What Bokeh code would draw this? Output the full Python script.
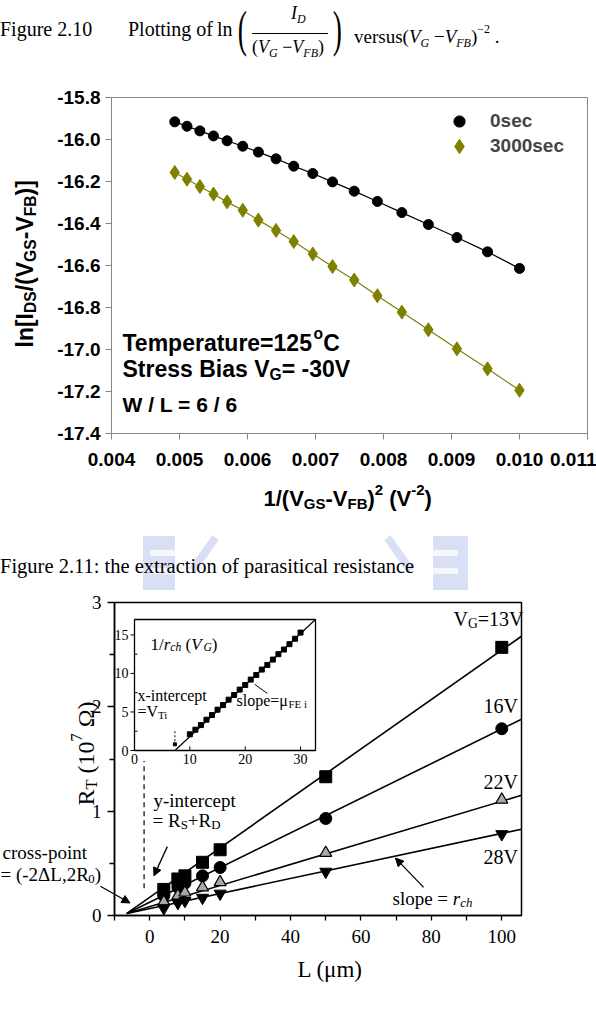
import math
from bokeh.plotting import figure
from bokeh.models import (Label, Legend, LegendItem, FixedTicker, Range1d, Div,
                          Arrow, NormalHead, NumeralTickFormatter, LinearAxis)
from bokeh.layouts import column
from bokeh.embed import file_html
from bokeh.resources import INLINE
from bokeh.core.properties import value

# ---------------- data : Figure 2.10 ----------------
inv_vgs_sq = [0.00493, 0.00511, 0.00530, 0.00550, 0.00570, 0.00593, 0.00616, 0.00642, 0.00668,
              0.00696, 0.00725, 0.00757, 0.00791, 0.00827, 0.00866, 0.00908, 0.00953, 0.01000]
ln_0sec = [-15.916, -15.937, -15.959, -15.983, -16.006, -16.032, -16.060, -16.092, -16.127,
           -16.162, -16.202, -16.246, -16.295, -16.348, -16.405, -16.467, -16.535, -16.614]
ln_3000sec = [-16.157, -16.189, -16.224, -16.260, -16.297, -16.337, -16.384, -16.433, -16.486,
              -16.545, -16.605, -16.669, -16.744, -16.822, -16.906, -16.997, -17.092, -17.194]
series_names_210 = ["0sec", "3000sec"]
x_ticks_210 = [0.004, 0.005, 0.006, 0.007, 0.008, 0.009, 0.010, 0.011]
x_tick_labels_210 = ["0.004", "0.005", "0.006", "0.007", "0.008", "0.009", "0.010", "0.011"]
y_ticks_210 = [-17.4, -17.2, -17.0, -16.8, -16.6, -16.4, -16.2, -16.0, -15.8]
y_tick_labels_210 = ["-17.4", "-17.2", "-17.0", "-16.8", "-16.6", "-16.4", "-16.2", "-16.0", "-15.8"]

# ---------------- data : Figure 2.11 ----------------
L_um = [4, 8, 10, 15, 20, 50, 100]
rt_13V = [0.25, 0.35, 0.38, 0.51, 0.63, 1.33, 2.57]
rt_16V = [0.19, 0.27, 0.31, 0.38, 0.46, 0.93, 1.79]
rt_22V = [0.13, 0.19, 0.22, 0.27, 0.32, 0.60, 1.11]
rt_28V = [0.07, 0.12, 0.14, 0.17, 0.21, 0.42, 0.78]
vg_names = ["13V", "16V", "22V", "28V"]
rch_slopes = [0.0237, 0.0166, 0.0101, 0.0072]      # fitted slopes r_ch
cross_L, cross_R = -6.5, 0.02                      # common cross-point (-2dL, 2R0)
x_lim_211 = (-10.0, 105.6)
y_lim_211 = (0.0, 3.0)
x_ticks_211 = [0, 20, 40, 60, 80, 100]
x_tick_labels_211 = ["0", "20", "40", "60", "80", "100"]
x_minor_211 = [-10, 10, 30, 50, 70, 90]
y_ticks_211 = [0, 1, 2, 3]
y_tick_labels_211 = ["0", "1", "2", "3"]
y_minor_211 = [0.5, 1.5, 2.5]
yint_marker_L = -1.6                               # dashed guide line
yint_marker_R = [0.26, 1.48]

# inset 1/r_ch (V_G)
inset_vg = [10, 11, 12, 13, 14, 15, 16, 17, 18, 19, 20, 21, 22, 23, 24, 25, 26, 27, 28, 29, 30]
inset_inv_rch = [2.1, 2.7, 3.3, 4.0, 4.6, 5.3, 5.9, 6.6, 7.2, 7.9, 8.5, 9.2, 9.8, 10.5,
                 11.1, 11.8, 12.5, 13.1, 13.8, 14.5, 15.3]
inset_low_vg = [7.3]
inset_low_val = [0.8]
vti = 7.3
mu_fe = 0.669
inset_x_lim = (0.0, 32.7)
inset_y_lim = (0.0, 17.0)
inset_x_ticks = [0, 10, 20, 30]
inset_x_tick_labels = ["0", "10", "20", "30"]
inset_y_ticks = [0, 5, 10, 15]
inset_y_tick_labels = ["0", "5", "10", "15"]
inset_y_minor = [2.5, 7.5, 12.5]

OLIVE = "#808000"
GREY = "#868686"
SANS = "Liberation Sans"
SERIF = "Liberation Serif"

AB = {' ': 278, '(': 333, ')': 333, '-': 333, '.': 278, '/': 278, '=': 584, '[': 333, ']': 333,
      'A': 722, 'B': 722, 'C': 722, 'D': 722, 'E': 667, 'F': 611, 'G': 778, 'I': 278, 'L': 611,
      'S': 667, 'T': 611, 'V': 667, 'W': 944, 'a': 556, 'c': 556, 'e': 556, 'i': 278, 'l': 278,
      'm': 889, 'n': 611, 'o': 611, 'p': 611, 'r': 389, 's': 556, 't': 333, 'u': 611}
for d in "0123456789":
    AB[d] = 556
TR = {' ': 250, '(': 333, ')': 333, '-': 333, '.': 250, ',': 250, '/': 278, '=': 564, '+': 564,
      ':': 278, 'C': 667, 'D': 722, 'E': 611, 'F': 556, 'G': 722, 'L': 611, 'R': 667, 'S': 556,
      'T': 611, 'V': 722, 'Δ': 612, 'Ω': 768, 'a': 444, 'c': 444, 'e': 444, 'h': 500, 'i': 278,
      'l': 278, 'm': 778, 'n': 500, 'o': 500, 'p': 500, 'r': 389, 's': 389, 't': 278, 'u': 500,
      'x': 500, 'y': 500, 'μ': 576}
for d in "0123456789":
    TR[d] = 500


def text_w(s, size, table):
    return sum(table.get(c, 500) for c in s) * size / 1000.0


def rich(p, X, Y, parts, fig_bottom, size, font, table, style="normal", angle=0.0, color="black"):
    """Run of text with sub/superscripts; X, Y = page px of the visual baseline start."""
    pos = 0.0
    comp = 0.32 * size  # renderer draws 'alphabetic' a little low; lift it
    for part in parts:
        txt, kind = part[0], part[1]
        st = part[2] if len(part) > 2 else style
        fs = size * 0.68 if kind != "n" else size
        shift = {"n": 0.0, "sub": -0.22 * size, "sup": 0.40 * size}[kind] + comp
        core = txt.strip(" ")
        lead = len(txt) - len(txt.lstrip(" "))
        trail = len(txt) - len(txt.rstrip(" "))
        pos += text_w(" " * lead, fs, table)
        if angle == 0.0:
            sx, sy = X + pos, fig_bottom - Y + shift
        else:
            sx, sy = X - shift, fig_bottom - Y + pos
        p.add_layout(Label(x=sx, y=sy, x_units="screen", y_units="screen", text=core,
                           text_font=font, text_font_size=f"{fs:.1f}px", text_font_style=st,
                           text_color=color, text_align="left", text_baseline="alphabetic",
                           angle=angle))
        pos += text_w(core, fs, table) + text_w(" " * trail, fs, table)


def make_fig(width, height, box, x_lim, y_lim):
    """Figure whose frame fills the canvas; the plot box (canvas px) maps onto x_lim/y_lim."""
    l, r, t, b = box
    kx = (x_lim[1] - x_lim[0]) / (r - l)
    ky = (y_lim[1] - y_lim[0]) / (b - t)
    p = figure(width=width, height=height, output_backend="svg", toolbar_location=None,
               x_range=Range1d(x_lim[0] - l * kx, x_lim[1] + (width - r) * kx),
               y_range=Range1d(y_lim[0] - (height - b) * ky, y_lim[1] + t * ky),
               x_axis_location=None, y_axis_location=None,
               min_border=0, min_border_left=0, min_border_right=0, min_border_top=0,
               min_border_bottom=0, background_fill_color="white", border_fill_color="white")
    p.title.visible = False
    p.outline_line_color = None
    p.xgrid.visible = False
    p.ygrid.visible = False
    return p


def style_axis(ax, color, font, size, bold):
    ax.axis_line_color = color
    ax.major_tick_line_color = color
    ax.major_tick_in = 0
    ax.major_label_text_font = font
    ax.major_label_text_font_size = size
    ax.major_label_text_font_style = "bold" if bold else "normal"
    ax.major_label_text_color = "black"


# ======================= caption 1 =======================
sub = 'style="font-size:12px;font-style:italic;vertical-align:-4px"'
cap1_html = f"""
<div style="position:relative;width:596px;height:60px;overflow:hidden;font-family:'{SERIF}',serif;color:#000;">
<span style="position:absolute;left:0px;top:17px;font-size:20px;line-height:24px;white-space:nowrap;">Figure 2.10</span>
<span style="position:absolute;left:128px;top:17px;font-size:20px;line-height:24px;white-space:nowrap;">Plotting of</span>
<span style="position:absolute;left:217px;top:17px;font-size:20px;line-height:24px;">ln</span>
<span style="position:absolute;left:234px;top:2px;font-size:50px;line-height:54px;transform:scaleX(0.55);">(</span>
<span style="position:absolute;left:291px;top:2px;font-size:18px;line-height:22px;font-style:italic;white-space:nowrap;">I<span {sub}>D</span></span>
<div style="position:absolute;left:252px;top:33px;width:76px;height:1px;background:#000;"></div>
<span style="position:absolute;left:252px;top:36px;font-size:18px;line-height:22px;white-space:nowrap;">(<i>V</i><span {sub}>G</span> &minus;<i>V</i><span {sub}>FB</span>)</span>
<span style="position:absolute;left:329px;top:2px;font-size:50px;line-height:54px;transform:scaleX(0.55);">)</span>
<span style="position:absolute;left:354px;top:17px;font-size:19px;line-height:24px;white-space:nowrap;">versus(<i>V</i><span {sub}>G</span> &minus;<i>V</i><span {sub}>FB</span>)<span style="font-size:12px;vertical-align:10px;">&minus;2</span> .</span>
</div>"""
cap1 = Div(text=cap1_html, width=596, height=60, margin=0)

# ======================= figure 2.10 =======================
F1_TOP, F1_H = 60, 470
F1_BOTTOM = F1_TOP + F1_H
box1 = (111, 587, 97 - F1_TOP, 433 - F1_TOP)
x_lim_210 = (x_ticks_210[0], x_ticks_210[-1])
y_lim_210 = (y_ticks_210[0], y_ticks_210[-1])
p1 = make_fig(596, F1_H, box1, x_lim_210, y_lim_210)

xax1 = LinearAxis(fixed_location=y_lim_210[0], bounds=x_lim_210, ticker=FixedTicker(ticks=x_ticks_210),
                  formatter=NumeralTickFormatter(format="0.000"))
style_axis(xax1, GREY, SANS, "19px", True)
xax1.major_tick_out = 6
xax1.minor_tick_line_color = None
xax1.major_label_standoff = 13
xax1.major_label_overrides = dict(zip(x_ticks_210, x_tick_labels_210))
p1.add_layout(xax1, "below")
yax1 = LinearAxis(fixed_location=x_lim_210[0], bounds=y_lim_210, ticker=FixedTicker(ticks=y_ticks_210),
                  formatter=NumeralTickFormatter(format="0.0"))
style_axis(yax1, GREY, SANS, "19px", True)
yax1.major_tick_out = 6
yax1.minor_tick_line_color = None
yax1.major_label_standoff = 5
yax1.major_label_overrides = dict(zip(y_ticks_210, y_tick_labels_210))
p1.add_layout(yax1, "left")
p1.quad(left=[x_lim_210[0]], right=[x_lim_210[1]], bottom=[y_lim_210[0]], top=[y_lim_210[1]],
        fill_color=None, line_color=GREY, line_width=1)

p1.line(inv_vgs_sq, ln_0sec, line_color="black", line_width=1.2)
r0 = p1.scatter(inv_vgs_sq, ln_0sec, marker="circle", size=10, fill_color="black", line_color="black")
p1.line(inv_vgs_sq, ln_3000sec, line_color=OLIVE, line_width=1.2)
r1 = p1.scatter(inv_vgs_sq, ln_3000sec, marker="diamond", size=14, fill_color=OLIVE, line_color=OLIVE)

# legend: one entry each so the two markers get their own glyph box size
leg_common = dict(spacing=0, padding=0, margin=0, border_line_color=None, background_fill_alpha=0,
                  label_text_font=SANS, label_text_font_style="bold", label_text_font_size="19px")
g0, g1 = 28, 36
p1.add_layout(Legend(items=[LegendItem(label=series_names_210[0], renderers=[r0])],
                     location=(459 - g0 // 2, F1_BOTTOM - (121 + g0 // 2)),
                     glyph_width=g0, glyph_height=g0, label_height=g0,
                     label_standoff=490 - (459 + g0 // 2), **leg_common))
p1.add_layout(Legend(items=[LegendItem(label=series_names_210[1], renderers=[r1])],
                     location=(459 - g1 // 2, F1_BOTTOM - (146 + g1 // 2)),
                     glyph_width=g1, glyph_height=g1, label_height=g1,
                     label_standoff=490 - (459 + g1 // 2), **leg_common))

rich(p1, 32, 347, [("ln[I", "n"), ("DS", "sub"), ("/(V", "n"), ("GS", "sub"), ("-V", "n"),
                   ("FB", "sub"), (")]", "n")], F1_BOTTOM, 23, SANS, AB, "bold", angle=math.pi / 2)
rich(p1, 263, 505, [("1/(V", "n"), ("GS", "sub"), ("-V", "n"), ("FB", "sub"), (")", "n"),
                    ("2", "sup"), (" (V", "n"), ("-2", "sup"), (")", "n")], F1_BOTTOM, 22, SANS, AB, "bold")
rich(p1, 122, 350, [("Temperature=125", "n"), ("o", "sup"), ("C", "n")], F1_BOTTOM, 23, SANS, AB, "bold")
rich(p1, 122, 376, [("Stress Bias V", "n"), ("G", "sub"), ("= -30V", "n")], F1_BOTTOM, 23, SANS, AB, "bold")
rich(p1, 122, 411, [("W / L = 6 / 6", "n")], F1_BOTTOM, 21, SANS, AB, "bold")

# ======================= caption 2 (with faint watermark) =======================
wm = "rgba(120,145,220,0.28)"
cap2_html = f"""
<div style="position:relative;width:596px;height:60px;overflow:hidden;font-family:'{SERIF}',serif;color:#000;">
<div style="position:absolute;left:143px;top:6px;width:32px;height:54px;background:{wm};"></div>
<div style="position:absolute;left:150px;top:20px;width:25px;height:6px;background:white;opacity:0.75;"></div>
<div style="position:absolute;left:150px;top:38px;width:25px;height:6px;background:white;opacity:0.75;"></div>
<div style="position:absolute;left:433px;top:6px;width:35px;height:54px;background:{wm};"></div>
<div style="position:absolute;left:433px;top:20px;width:25px;height:6px;background:white;opacity:0.75;"></div>
<div style="position:absolute;left:433px;top:38px;width:25px;height:6px;background:white;opacity:0.75;"></div>
<div style="position:absolute;left:200px;top:4px;width:8px;height:40px;background:{wm};transform:rotate(35deg);"></div>
<div style="position:absolute;left:395px;top:4px;width:8px;height:40px;background:{wm};transform:rotate(-35deg);"></div>
<span style="position:absolute;left:0px;top:24px;font-size:20.5px;line-height:24px;white-space:nowrap;">Figure 2.11: the extraction of parasitical resistance</span>
</div>"""
cap2 = Div(text=cap2_html, width=596, height=60, margin=0)

# ======================= figure 2.11 =======================
F2_TOP, F2_H = 590, 445
F2_BOTTOM = F2_TOP + F2_H
box2 = (114, 521, 602 - F2_TOP, 915 - F2_TOP)
p2 = make_fig(596, F2_H, box2, x_lim_211, y_lim_211)

xax2 = LinearAxis(fixed_location=y_lim_211[0], bounds=x_lim_211,
                  ticker=FixedTicker(ticks=x_ticks_211, minor_ticks=x_minor_211))
style_axis(xax2, "black", SERIF, "19px", False)
xax2.axis_line_width = 1.5
xax2.major_tick_line_width = 1.3
xax2.minor_tick_line_width = 1.3
xax2.minor_tick_line_color = "black"
xax2.major_tick_out = 5
xax2.minor_tick_out = 5
xax2.minor_tick_in = 0
xax2.major_label_standoff = 9
xax2.major_label_overrides = dict(zip(x_ticks_211, x_tick_labels_211))
p2.add_layout(xax2, "below")
yax2 = LinearAxis(fixed_location=x_lim_211[0], bounds=y_lim_211,
                  ticker=FixedTicker(ticks=y_ticks_211, minor_ticks=y_minor_211))
style_axis(yax2, "black", SERIF, "19px", False)
yax2.axis_line_width = 1.5
yax2.major_tick_line_width = 1.3
yax2.minor_tick_line_width = 1.3
yax2.minor_tick_line_color = "black"
yax2.major_tick_out = 7
yax2.minor_tick_out = 5
yax2.minor_tick_in = 0
yax2.major_label_standoff = 6
yax2.major_label_overrides = dict(zip(y_ticks_211, y_tick_labels_211))
p2.add_layout(yax2, "left")
p2.quad(left=[x_lim_211[0]], right=[x_lim_211[1]], bottom=[y_lim_211[0]], top=[y_lim_211[1]],
        fill_color=None, line_color="black", line_width=1.5)

# fitted lines through the common cross point, up to the right edge of the box
x_far = x_lim_211[1]
for s in rch_slopes:
    p2.line([cross_L, x_far], [cross_R, cross_R + s * (x_far - cross_L)], line_color="black", line_width=1.6)

p2.scatter(L_um, rt_13V, marker="square", size=12, fill_color="black", line_color="black")
p2.scatter(L_um, rt_16V, marker="circle", size=12, fill_color="black", line_color="black")
p2.scatter(L_um, rt_22V, marker="triangle", size=12, fill_color="#a8a8a8", line_color="black", line_width=1.2)
p2.scatter(L_um, rt_28V, marker="inverted_triangle", size=12, fill_color="black", line_color="black")

p2.segment(x0=[yint_marker_L], y0=[yint_marker_R[0]], x1=[yint_marker_L], y1=[yint_marker_R[1]],
           line_color="black", line_width=1.2, line_dash="5 4")

# ---- inset, on its own ranges mapped onto a sub-box of the canvas ----
ibox = (134, 315, 619 - F2_TOP, 750 - F2_TOP)  # canvas px: left, right, top, bottom
il, ir, itp, ibt = ibox
kx = (inset_x_lim[1] - inset_x_lim[0]) / (ir - il)
ky = (inset_y_lim[1] - inset_y_lim[0]) / (ibt - itp)
p2.extra_x_ranges = {"ix": Range1d(inset_x_lim[0] - il * kx, inset_x_lim[1] + (596 - ir) * kx)}
p2.extra_y_ranges = {"iy": Range1d(inset_y_lim[0] - (F2_H - ibt) * ky, inset_y_lim[1] + itp * ky)}
IR = dict(x_range_name="ix", y_range_name="iy")

p2.quad(left=[inset_x_lim[0]], right=[inset_x_lim[1]], bottom=[inset_y_lim[0]], top=[inset_y_lim[1]],
        fill_color="white", line_color="black", line_width=1.3, **IR)
p2.segment(x0=inset_x_ticks, y0=[inset_y_lim[0]] * 4, x1=inset_x_ticks, y1=[inset_y_lim[0] + 4 * ky] * 4,
           line_color="black", line_width=1, **IR)
p2.segment(x0=[inset_x_lim[0]] * 4, y0=inset_y_ticks, x1=[inset_x_lim[0] - 4 * kx] * 4, y1=inset_y_ticks,
           line_color="black", line_width=1, **IR)
p2.segment(x0=[inset_x_lim[0]] * 3, y0=inset_y_minor, x1=[inset_x_lim[0] + 3 * kx] * 3, y1=inset_y_minor,
           line_color="black", line_width=1, **IR)
p2.text(x=inset_x_ticks, y=[inset_y_lim[0]] * 4, text=inset_x_tick_labels, y_offset=3,
        text_align="center", text_baseline="top", text_font=value(SERIF), text_font_size="14px",
        text_color="black", **IR)
p2.text(x=[inset_x_lim[0]] * 4, y=inset_y_ticks, text=inset_y_tick_labels, x_offset=-6,
        text_align="right", text_baseline="middle", text_font=value(SERIF), text_font_size="14px",
        text_color="black", **IR)
x_end = min(inset_x_lim[1], vti + inset_y_lim[1] / mu_fe)
p2.line([vti, x_end], [0, mu_fe * (x_end - vti)], line_color="black", line_width=1.2, **IR)
p2.scatter(inset_vg, inset_inv_rch, marker="square", size=5, fill_color="black", line_color="black", **IR)
p2.scatter(inset_low_vg, inset_low_val, marker="square", size=3, fill_color="black", line_color="black", **IR)
p2.segment(x0=[vti], y0=[1.2], x1=[vti], y1=[2.6], line_color="black", line_width=1, line_dash="2 2", **IR)
p2.segment(x0=[21.7], y0=[8.6], x1=[24.0], y1=[7.4], line_color="black", line_width=1, **IR)

# arrows
head = dict(size=8, fill_color="black", line_color="black")
p2.add_layout(Arrow(end=NormalHead(**head), x_start=-14.0, y_start=0.28, x_end=-5.6, y_end=0.12,
                    line_color="black", line_width=1.3))
p2.add_layout(Arrow(end=NormalHead(**head), x_start=5.0, y_start=0.66, x_end=1.2, y_end=0.38,
                    line_color="black", line_width=1.3))
p2.add_layout(Arrow(end=NormalHead(**head), x_start=77.8, y_start=0.27, x_end=69.8, y_end=0.55,
                    line_color="black", line_width=1.3))

rich(p2, 453, 625, [("V", "n"), ("G", "sub"), ("=" + vg_names[0], "n")], F2_BOTTOM, 20, SERIF, TR)
rich(p2, 483, 712, [(vg_names[1], "n")], F2_BOTTOM, 20, SERIF, TR)
rich(p2, 483, 788, [(vg_names[2], "n")], F2_BOTTOM, 20, SERIF, TR)
rich(p2, 483, 863, [(vg_names[3], "n")], F2_BOTTOM, 20, SERIF, TR)
rich(p2, 392, 904, [("slope = ", "n"), ("r", "n", "italic"), ("ch", "sub", "italic")], F2_BOTTOM, 19, SERIF, TR)
rich(p2, 153, 806, [("y-intercept", "n")], F2_BOTTOM, 19, SERIF, TR)
rich(p2, 152, 826, [("= R", "n"), ("S", "sub"), ("+R", "n"), ("D", "sub")], F2_BOTTOM, 19, SERIF, TR)
rich(p2, 2, 858, [("cross-point", "n")], F2_BOTTOM, 19, SERIF, TR)
rich(p2, 0, 880, [("= (-2ΔL,2R", "n"), ("0", "sub"), (")", "n")], F2_BOTTOM, 19, SERIF, TR)
rich(p2, 150, 649, [("1/", "n"), ("r", "n", "italic"), ("ch", "sub", "italic"), (" (", "n"),
                    ("V", "n", "italic"), ("G", "sub", "italic"), (")", "n")], F2_BOTTOM, 17, SERIF, TR)
rich(p2, 137, 700, [("x-intercept", "n")], F2_BOTTOM, 16, SERIF, TR)
rich(p2, 137, 716, [("=V", "n"), ("Ti", "sub")], F2_BOTTOM, 16, SERIF, TR)
rich(p2, 236, 705, [("slope=μ", "n"), ("FE i", "sub")], F2_BOTTOM, 16, SERIF, TR)
rich(p2, 93, 805, [("R", "n"), ("T", "sub"), (" (10", "n"), ("7", "sup"), (" Ω)", "n")],
     F2_BOTTOM, 24, SERIF, TR, angle=math.pi / 2)
rich(p2, 297, 976, [("L (μm)", "n")], F2_BOTTOM, 23, SERIF, TR)

layout = column(cap1, p1, cap2, p2, spacing=0)
html = file_html(layout, INLINE, title="Figures 2.10 and 2.11")
html = html.replace("<body>", '<body style="margin:0;">')
open("out.html", "w").write(html)
